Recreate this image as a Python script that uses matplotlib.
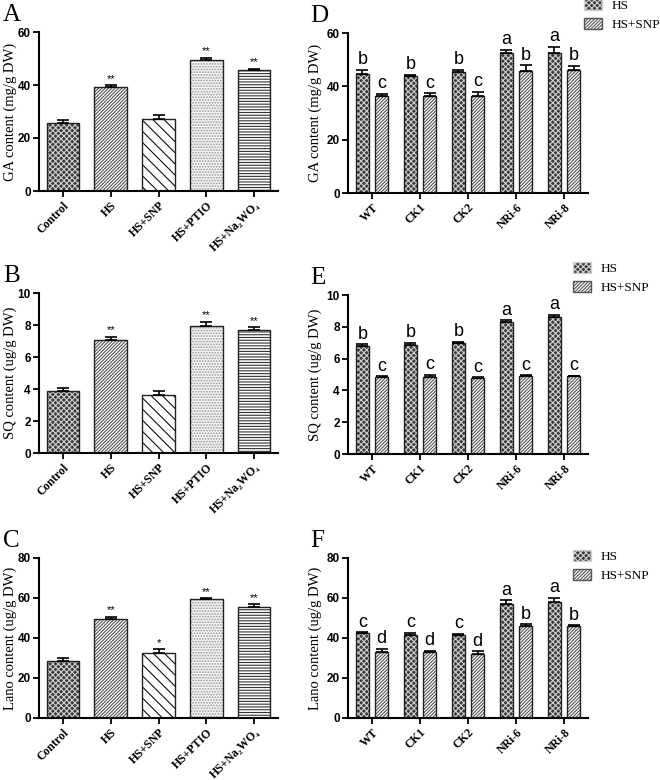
import numpy as np
import matplotlib
matplotlib.use("Agg")
import matplotlib.pyplot as plt
from matplotlib.patches import Patch

plt.rcParams['hatch.linewidth'] = 0.8

# ==== Data ====
treat_lbl = ["Control", "HS", "HS+SNP", "HS+PTIO", "HS+Na\u2082WO\u2084"]

ga_val = [25.8, 39.3, 27.3, 49.5, 45.5]
ga_err = [1.0, 0.6, 1.5, 0.8, 0.6]
ga_sig = ["", "**", "", "**", "**"]

sq_val = [3.85, 7.05, 3.65, 7.95, 7.7]
sq_err = [0.2, 0.2, 0.2, 0.25, 0.15]
sq_sig = ["", "**", "", "**", "**"]

lano_val = [28.3, 49.5, 32.5, 59.3, 55.3]
lano_err = [1.5, 1.2, 1.8, 0.6, 1.5]
lano_sig = ["", "**", "*", "**", "**"]

lines = ["WT", "CK1", "CK2", "NRi-6", "NRi-8"]

ga_hs = [44.5, 43.8, 45.3, 52.5, 52.6]
ga_hs_err = [1.8, 0.6, 1.0, 1.3, 2.2]
ga_snp = [36.2, 36.2, 36.2, 45.9, 46.1]
ga_snp_err = [1.0, 1.2, 1.8, 2.0, 1.5]
ga_hs_l = ["b", "b", "b", "a", "a"]
ga_snp_l = ["c", "c", "c", "b", "b"]

sq_hs = [6.8, 6.85, 6.95, 8.3, 8.6]
sq_hs_err = [0.1, 0.15, 0.1, 0.1, 0.15]
sq_snp = [4.85, 4.82, 4.78, 4.92, 4.88]
sq_snp_err = [0.05, 0.15, 0.05, 0.03, 0.04]
sq_hs_l = ["b", "b", "b", "a", "a"]
sq_snp_l = ["c", "c", "c", "c", "c"]

la_hs = [42.3, 41.6, 41.6, 57.0, 58.2]
la_hs_err = [0.6, 1.0, 0.6, 1.8, 1.8]
la_snp = [33.2, 33.0, 32.0, 46.0, 45.8]
la_snp_err = [1.4, 0.5, 1.3, 0.8, 0.6]
la_hs_l = ["c", "c", "c", "a", "a"]
la_snp_l = ["d", "d", "d", "b", "b"]

# styles: (facecolor, hatchcolor, hatch)
treat_style = [("#3a3a3a", "#d0d0d0", "xxxxxx"),
               ("#ffffff", "#555555", "//////////"),
               ("#ffffff", "#111111", "\\\\\\"),
               ("#f2f2f2", "#9a9a9a", "......"),
               ("#ffffff", "#333333", "------")]
hs_style = ("#3a3a3a", "#d0d0d0", "xxxxxx")
snp_style = ("#ffffff", "#555555", "//////////")

SERIF = ['Liberation Serif', 'DejaVu Serif']
W, H = 660, 780
fig = plt.figure(figsize=(6.6, 7.8), dpi=100)

def mk_ax(left, top, right, bottom):
    return fig.add_axes([left / W, 1 - bottom / H, (right - left) / W, (bottom - top) / H])

def style_ax(ax, ymax, ystep, ylabel, xlabels, lab_x):
    ax.set_ylim(0, ymax)
    ax.set_yticks(np.arange(0, ymax + 0.01, ystep))
    ax.set_xlim(-0.5, 4.5)
    ax.set_xticks(range(5))
    ax.set_xticklabels(xlabels, rotation=45, ha='right', rotation_mode='anchor',
                       family=SERIF, fontweight='bold', fontsize=8.5)
    for t in ax.get_yticklabels():
        t.set_family('Liberation Sans')
        t.set_fontweight('bold')
        t.set_fontsize(8.5)
    ax.spines['top'].set_visible(False)
    ax.spines['right'].set_visible(False)
    ax.spines['left'].set_linewidth(1.5)
    ax.spines['bottom'].set_linewidth(1.5)
    ax.tick_params(direction='out', length=4, width=1.3, pad=2)
    ax.set_ylabel(ylabel, family=SERIF, fontsize=10.5)
    ax.yaxis.set_label_coords(lab_x, 0.5)

def hbar(ax, x, h, err, w, st):
    fc, hc, hatch = st
    ax.bar(x, h, w, color=fc, edgecolor=hc, hatch=hatch, linewidth=0, zorder=2)
    ax.bar(x, h, w, fill=False, edgecolor='#222222', linewidth=1.0, zorder=3)
    ax.errorbar(x, h, yerr=[[0], [err]], fmt='none', ecolor='black',
                elinewidth=1.2, capsize=4, capthick=1.2, zorder=4)

def left_panel(ax, vals, errs, sigs, ymax, ystep, ylabel, letter):
    for i in range(5):
        hbar(ax, i, vals[i], errs[i], 0.68, treat_style[i])
        if sigs[i]:
            ax.text(i, vals[i] + errs[i] + ymax * 0.01, sigs[i], ha='center', va='bottom',
                    fontsize=8, family='Liberation Sans')
    style_ax(ax, ymax, ystep, ylabel, treat_lbl, -0.094)
    ax.text(-0.15, 1.04, letter, transform=ax.transAxes, family=SERIF,
            fontsize=18, va='bottom', ha='left')

def right_panel(ax, hs, hse, snp, snpe, hl, sl, ymax, ystep, ylabel, letter):
    off, w = 0.2, 0.27
    for i in range(5):
        hbar(ax, i - off, hs[i], hse[i], w, hs_style)
        hbar(ax, i + off, snp[i], snpe[i], w, snp_style)
        ax.text(i - off, hs[i] + hse[i] + ymax * 0.01, hl[i], ha='center', va='bottom',
                fontsize=13, family='Liberation Sans')
        ax.text(i + off, snp[i] + snpe[i] + ymax * 0.01, sl[i], ha='center', va='bottom',
                fontsize=13, family='Liberation Sans')
    style_ax(ax, ymax, ystep, ylabel, lines, -0.108)
    ax.text(-0.158, 1.04, letter, transform=ax.transAxes, family=SERIF,
            fontsize=18, va='bottom', ha='left')

def legend_at(x, y):
    hnd = [Patch(facecolor=hs_style[0], edgecolor=hs_style[1], hatch=hs_style[2]),
           Patch(facecolor=snp_style[0], edgecolor=snp_style[1], hatch=snp_style[2])]
    fig.legend(hnd, ["HS", "HS+SNP"], loc='upper left', bbox_to_anchor=(x / W, 1 - y / H),
               frameon=False, prop={'family': SERIF, 'size': 9.5},
               handlelength=1.4, handleheight=0.9, labelspacing=0.45,
               handletextpad=0.7, borderpad=0, borderaxespad=0)

axA = mk_ax(39, 32, 278, 191)
left_panel(axA, ga_val, ga_err, ga_sig, 60, 20, "GA content (mg/g DW)", "A")
axB = mk_ax(39, 293, 278, 453)
left_panel(axB, sq_val, sq_err, sq_sig, 10, 2, "SQ content (ug/g DW)", "B")
axC = mk_ax(39, 558, 278, 718)
left_panel(axC, lano_val, lano_err, lano_sig, 80, 20, "Lano content (ug/g DW)", "C")

axD = mk_ax(348, 33, 588, 193)
right_panel(axD, ga_hs, ga_hs_err, ga_snp, ga_snp_err, ga_hs_l, ga_snp_l, 60, 20,
            "GA content (mg/g DW)", "D")
axE = mk_ax(348, 295, 588, 454)
right_panel(axE, sq_hs, sq_hs_err, sq_snp, sq_snp_err, sq_hs_l, sq_snp_l, 10, 2,
            "SQ content (ug/g DW)", "E")
axF = mk_ax(348, 558, 588, 718)
right_panel(axF, la_hs, la_hs_err, la_snp, la_snp_err, la_hs_l, la_snp_l, 80, 20,
            "Lano content (ug/g DW)", "F")

legend_at(584, -1)
legend_at(573, 262)
legend_at(573, 550)

fig.savefig("out.png", dpi=100)
